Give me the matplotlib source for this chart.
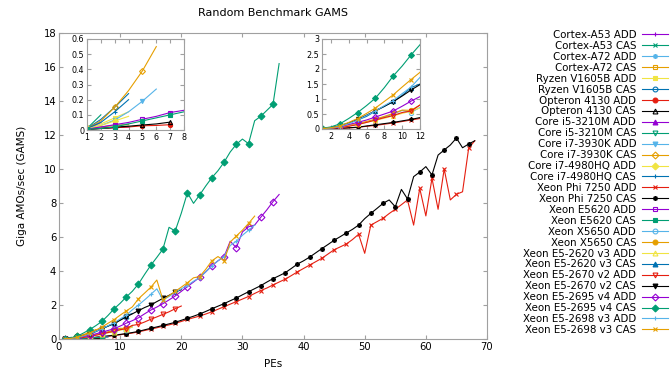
import matplotlib
matplotlib.use("Agg")
import matplotlib.pyplot as plt
from matplotlib.ticker import FuncFormatter

# series names, in gnuplot order
names = ["Cortex-A53 ADD", "Cortex-A53 CAS", "Cortex-A72 ADD", "Cortex-A72 CAS",
         "Ryzen V1605B ADD", "Ryzen V1605B CAS", "Opteron 4130 ADD", "Opteron 4130 CAS",
         "Core i5-3210M ADD", "Core i5-3210M CAS", "Core i7-3930K ADD", "Core i7-3930K CAS",
         "Core i7-4980HQ ADD", "Core i7-4980HQ CAS", "Xeon Phi 7250 ADD", "Xeon Phi 7250 CAS",
         "Xeon E5620 ADD", "Xeon E5620 CAS", "Xeon X5650 ADD", "Xeon X5650 CAS",
         "Xeon E5-2620 v3 ADD", "Xeon E5-2620 v3 CAS", "Xeon E5-2670 v2 ADD", "Xeon E5-2670 v2 CAS",
         "Xeon E5-2695 v4 ADD", "Xeon E5-2695 v4 CAS", "Xeon E5-2698 v3 ADD", "Xeon E5-2698 v3 CAS"]

# GAMS per PE count (PEs = 1, 2, 3, ...)
a53_add = [0.005, 0.01, 0.015, 0.02]
a53_cas = [0.006, 0.012, 0.018, 0.024]
a72_add = [0.01, 0.02, 0.03, 0.04]
a72_cas = [0.01, 0.02, 0.03, 0.035]
ryzen_add = [0.01, 0.04, 0.08, 0.12]
ryzen_cas = [0.01, 0.07, 0.15, 0.24]
opteron_add = [0.005, 0.01, 0.015, 0.02, 0.028, 0.03, 0.035]
opteron_cas = [0.005, 0.01, 0.018, 0.025, 0.033, 0.04, 0.052]
i5_add = [0.01, 0.05]
i5_cas = [0.01, 0.1]
i7k_add = [0.01, 0.03, 0.066, 0.12, 0.19, 0.27]
i7k_cas = [0.01, 0.06, 0.15, 0.26, 0.39, 0.55]
i7hq_add = [0.01, 0.03, 0.06, 0.09]
i7hq_cas = [0.01, 0.05, 0.12, 0.2]
phi_add = [0.0, 0.01, 0.02, 0.035, 0.055, 0.09, 0.12, 0.16, 0.2, 0.25,
           0.3, 0.35, 0.42, 0.5, 0.58, 0.66, 0.75, 0.83, 0.92, 1.03,
           1.15, 1.25, 1.35, 1.47, 1.6, 1.75, 1.9, 2.05, 2.2, 2.35,
           2.5, 2.68, 2.85, 3.0, 3.18, 3.35, 3.52, 3.73, 3.95, 4.15,
           4.35, 4.55, 4.75, 5.0, 5.25, 5.42, 5.59, 5.85, 6.16, 5.04,
           6.7, 6.9, 7.1, 7.38, 7.63, 7.9, 8.18, 6.7, 8.86, 7.24,
           9.45, 7.63, 10.0, 8.18, 8.51, 8.66, 11.22, 11.66]
phi_cas = [0.0, 0.01, 0.02, 0.04, 0.06, 0.1, 0.14, 0.18, 0.22, 0.27,
           0.32, 0.38, 0.45, 0.54, 0.63, 0.71, 0.8, 0.89, 0.98, 1.1,
           1.22, 1.34, 1.47, 1.62, 1.78, 1.93, 2.08, 2.25, 2.41, 2.6,
           2.78, 2.96, 3.14, 3.35, 3.55, 3.72, 3.9, 4.15, 4.41, 4.6,
           4.82, 5.07, 5.32, 5.56, 5.81, 6.02, 6.24, 6.45, 6.7, 7.08,
           7.39, 7.68, 7.98, 8.18, 7.78, 8.8, 8.24, 9.55, 9.82, 10.14,
           9.65, 10.82, 11.12, 11.41, 11.82, 11.25, 11.47, 11.66]
e5620_add = [0.005, 0.02, 0.035, 0.05, 0.071, 0.09, 0.115, 0.13]
e5620_cas = [0.005, 0.01, 0.02, 0.04, 0.06, 0.08, 0.10, 0.12]
x5650_add = [0.01, 0.03, 0.06, 0.1, 0.16, 0.23, 0.31, 0.4, 0.5, 0.62, 0.55, 0.72]
x5650_cas = [0.01, 0.03, 0.07, 0.12, 0.18, 0.25, 0.33, 0.42, 0.52, 0.63, 0.62, 0.8]
e2620_add = [0.01, 0.03, 0.07, 0.11, 0.16, 0.22, 0.29, 0.36, 0.44, 0.52, 0.6, 0.7]
e2620_cas = [0.01, 0.05, 0.11, 0.2, 0.3, 0.42, 0.6, 0.75, 0.92, 1.12, 1.38, 1.5]
e2670_add = [0.01, 0.02, 0.04, 0.09, 0.15, 0.22, 0.3, 0.38, 0.45, 0.55,
             0.6, 0.8, 0.86, 1.0, 1.16, 1.3, 1.45, 1.6, 1.78, 1.94]
e2670_cas = [0.01, 0.04, 0.1, 0.2, 0.32, 0.46, 0.61, 0.76, 0.91, 1.1,
             1.3, 1.48, 1.67, 1.85, 2.0, 2.2, 2.39, 2.57, 2.76, 2.9]
e2695_add = [0.01, 0.04, 0.08, 0.15, 0.22, 0.3, 0.4, 0.5, 0.6, 0.76,
             0.93, 1.08, 1.25, 1.48, 1.7, 1.88, 2.08, 2.3, 2.53, 2.8,
             3.08, 3.35, 3.63, 3.95, 4.31, 4.6, 4.84, 5.75, 5.37, 6.3,
             6.6, 6.7, 7.16, 7.6, 8.08, 8.5]
e2695_cas = [0.02, 0.07, 0.17, 0.35, 0.55, 0.78, 1.03, 1.38, 1.77, 2.1,
             2.47, 2.81, 3.24, 3.8, 4.33, 4.8, 5.29, 6.57, 6.35, 7.4,
             8.6, 7.98, 8.47, 9.0, 9.49, 9.9, 10.4, 11.0, 11.45, 11.76,
             11.49, 12.84, 13.1, 13.45, 13.8, 16.2]
e2698_add = [0.01, 0.03, 0.08, 0.18, 0.3, 0.45, 0.6, 0.78, 0.95, 1.18,
             1.4, 1.72, 2.0, 2.3, 2.62, 2.95, 2.3, 2.5, 2.75, 2.95,
             3.15, 3.4, 3.6, 3.95, 4.3, 4.6, 4.85, 5.5, 5.75, 6.1,
             6.4, 6.7]
e2698_cas = [0.01, 0.04, 0.1, 0.22, 0.35, 0.52, 0.7, 0.92, 1.14, 1.4,
             1.65, 1.89, 2.37, 2.7, 3.04, 3.47, 2.3, 2.55, 2.8, 3.05,
             3.31, 3.6, 3.67, 4.1, 4.6, 4.85, 4.6, 5.7, 6.06, 6.4,
             6.8, 7.23]

series = [a53_add, a53_cas, a72_add, a72_cas, ryzen_add, ryzen_cas,
          opteron_add, opteron_cas, i5_add, i5_cas, i7k_add, i7k_cas,
          i7hq_add, i7hq_cas, phi_add, phi_cas, e5620_add, e5620_cas,
          x5650_add, x5650_cas, e2620_add, e2620_cas, e2670_add, e2670_cas,
          e2695_add, e2695_cas, e2698_add, e2698_cas]

# gnuplot default line colours and point types
colors = ["#9400d3", "#009e73", "#56b4e9", "#e69f00",
          "#f0e442", "#0072b2", "#e51e10", "black"]
points = [("+", False), ("x", False), ((8, 2, 0), False), ("s", False), ("s", True),
          ("o", False), ("o", True), ("^", False), ("^", True), ("v", False),
          ("v", True), ("D", False), ("D", True)]

plt.rcParams["font.family"] = "DejaVu Sans"
GRAY = "#a0a0a0"


def g_fmt(v, pos):
    return "%g" % v


def style_axes(ax, size):
    for sp in ax.spines.values():
        sp.set_color(GRAY)
        sp.set_linewidth(0.8)
    ax.tick_params(direction="in", top=True, right=True, color=GRAY,
                   length=3, width=0.8, labelsize=size, pad=2)


def draw_all(ax, ms, keep=lambda ys: True):
    handles = []
    for i, ys in enumerate(series):
        xs = list(range(1, len(ys) + 1))
        c = colors[i % 8]
        m, filled = points[i % 13]
        ln, = ax.plot(xs, ys, color=c, lw=0.8, marker=m, markevery=2,
                      markersize=ms, markeredgewidth=0.8,
                      markerfacecolor=c if filled else "none",
                      markeredgecolor=c, label=names[i])
        ln.set_visible(keep(ys))
        handles.append(ln)
    return handles


fig = plt.figure(figsize=(6.71, 3.75), dpi=100)
ax = fig.add_axes([59 / 671, 1 - 339 / 375, 428 / 671, 306 / 375])
handles = draw_all(ax, 3.5)
ax.set_xlim(0, 70)
ax.set_ylim(0, 18)
ax.set_xticks(range(0, 71, 10))
ax.set_yticks(range(0, 19, 2))
style_axes(ax, 7.2)
ax.set_xlabel("PEs", fontsize=7.5, labelpad=5)
ax.set_ylabel("Giga AMOs/sec (GAMS)", fontsize=7.5, labelpad=12)
ax.set_title("Random Benchmark GAMS", fontsize=8, pad=12)

# insets: small machines (<= 8 PEs) left, larger ones right
ins1 = fig.add_axes([87 / 671, 1 - 130 / 375, 97 / 671, 91 / 375])
draw_all(ins1, 3, lambda ys: len(ys) <= 8)
ins1.set_xlim(1, 8)
ins1.set_ylim(0, 0.6)
ins1.set_xticks(range(1, 9))
ins1.set_yticks([0, 0.1, 0.2, 0.3, 0.4, 0.5, 0.6])
ins1.yaxis.set_major_formatter(FuncFormatter(g_fmt))
style_axes(ins1, 5.8)

ins2 = fig.add_axes([322 / 671, 1 - 129 / 375, 98 / 671, 90 / 375])
draw_all(ins2, 3, lambda ys: len(ys) > 8)
ins2.set_xlim(1, 12)
ins2.set_ylim(0, 3)
ins2.set_xticks(range(2, 13, 2))
ins2.set_yticks([0, 0.5, 1, 1.5, 2, 2.5, 3])
ins2.yaxis.set_major_formatter(FuncFormatter(g_fmt))
style_axes(ins2, 5.8)

leg = fig.legend(handles=handles, loc="upper right",
                 bbox_to_anchor=(668 / 671, 1 - 30 / 375),
                 markerfirst=False, frameon=False, fontsize=7.4,
                 handlelength=2.5, handletextpad=0.6, labelspacing=0.09,
                 borderpad=0, borderaxespad=0)

fig.savefig("out.png", dpi=100)
